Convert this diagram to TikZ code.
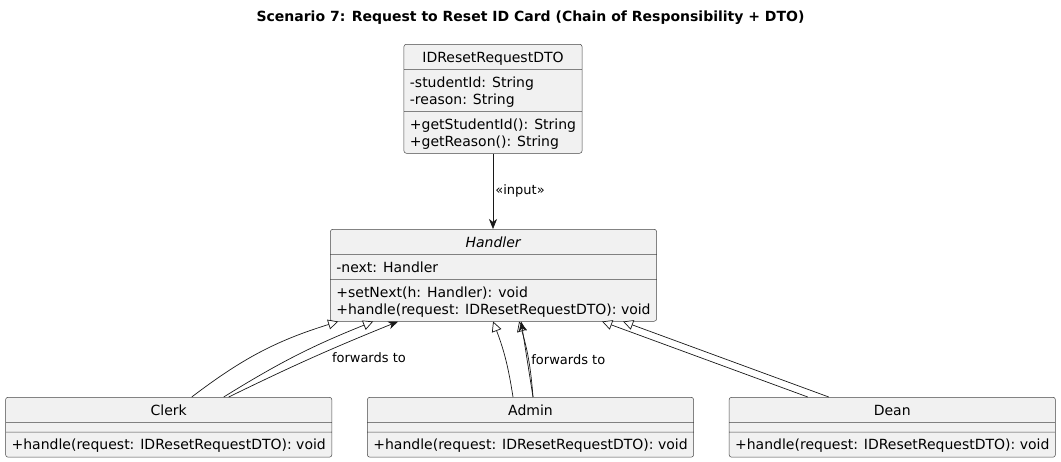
\documentclass[tikz,border=0pt]{standalone}
\usepackage{fontspec}
\setmainfont{DejaVu Sans}
\usetikzlibrary{positioning,shapes.multipart,arrows.meta}
\definecolor{umlfill}{HTML}{F1F1F1}
\definecolor{umlline}{HTML}{181818}
\newcommand{\ust}{\rule[-5pt]{0pt}{20.5pt}}
\newcommand{\ustop}{\rule{0pt}{15.5pt}}
\newcommand{\usbot}{\rule[-5pt]{0pt}{5pt}}

\begin{document}
\begin{tikzpicture}[x=1pt,y=-1pt,line width=0.5pt,
  cls/.style={rectangle split,rectangle split parts=3,draw=umlline!80,fill=umlfill,
    rounded corners=2.5pt,inner xsep=6pt,inner ysep=2pt,
    rectangle split part align={center,left,left},
    rectangle split empty part height=0pt,rectangle split empty part depth=0pt,
    font=\fontsize{14}{17}\selectfont},
  multi/.style={cls,align=left},
  inherit/.style={draw=umlline,line width=0.7pt,-{Triangle[length=10pt,width=10pt,fill=white]}},
  fwd/.style={draw=umlline,line width=0.7pt,-{Stealth[length=10pt,width=8pt,inset=3pt]}},
  lbl/.style={inner sep=0pt,font=\fontsize{13}{15}\selectfont}]

  \useasboundingbox (0,0) rectangle (1061,461);

  \node[font=\bfseries\fontsize{14}{16}\selectfont] (title) at (530.5,18)
    {Scenario 7: Request to Reset ID Card (Chain of Responsibility + DTO)};

  \node[multi,anchor=north] (dto) at (493,44) {\ust IDResetRequestDTO
    \nodepart{two}\ustop -studentId: String\\\usbot -reason: String
    \nodepart{three}\ustop +getStudentId(): String\\\usbot +getReason(): String};

  \node[multi,anchor=north] (handler) at (493.5,229) {\ust\textit{Handler}
    \nodepart{two}\ust -next: Handler
    \nodepart{three}\ustop +setNext(h: Handler): void\\\usbot +handle(request: IDResetRequestDTO): void};

  % the chain
  \node[cls,anchor=north] (admin) at (530.5,397) {\ust Admin
    \nodepart{two}
    \nodepart{three}\ust +handle(request: IDResetRequestDTO): void};
  \node[cls,left=35pt of admin] (clerk) {\ust Clerk
    \nodepart{two}
    \nodepart{three}\ust +handle(request: IDResetRequestDTO): void};
  \node[cls,right=35pt of admin] (dean) {\ust Dean
    \nodepart{two}
    \nodepart{three}\ust +handle(request: IDResetRequestDTO): void};

  \draw[fwd] (dto.south) -- node[lbl,midway,anchor=west,xshift=2pt] {«input»} (dto.south |- handler.north);

  % edges from clerk
  \draw[inherit] ([xshift=23pt]clerk.north) to[bend left=10] ([xshift=8pt]handler.south west);
  \draw[inherit] ([xshift=55pt]clerk.north) to[bend left=5] ([xshift=43pt]handler.south west);
  \draw[fwd] ([xshift=60pt]clerk.north) to[bend left=2]
    node[lbl,midway,anchor=west,xshift=19pt] {forwards to} ([xshift=68pt]handler.south west);

  % edges from admin
  \draw[inherit] ([xshift=-17.5pt]admin.north) to[bend right=6] ([xshift=163pt]handler.south west);
  \draw[inherit] ([xshift=2.5pt]admin.north) to[bend right=6] ([xshift=189pt]handler.south west);
  \draw[fwd] ([xshift=2.5pt]admin.north) --
    node[lbl,midway,anchor=west,xshift=4pt] {forwards to} ([xshift=191pt]handler.south west);

  % edges from dean
  \draw[inherit] ([xshift=-84.5pt]dean.north) -- ([xshift=272pt]handler.south west);
  \draw[inherit] ([xshift=-63.5pt]dean.north) -- ([xshift=293pt]handler.south west);

\end{tikzpicture}
\end{document}
